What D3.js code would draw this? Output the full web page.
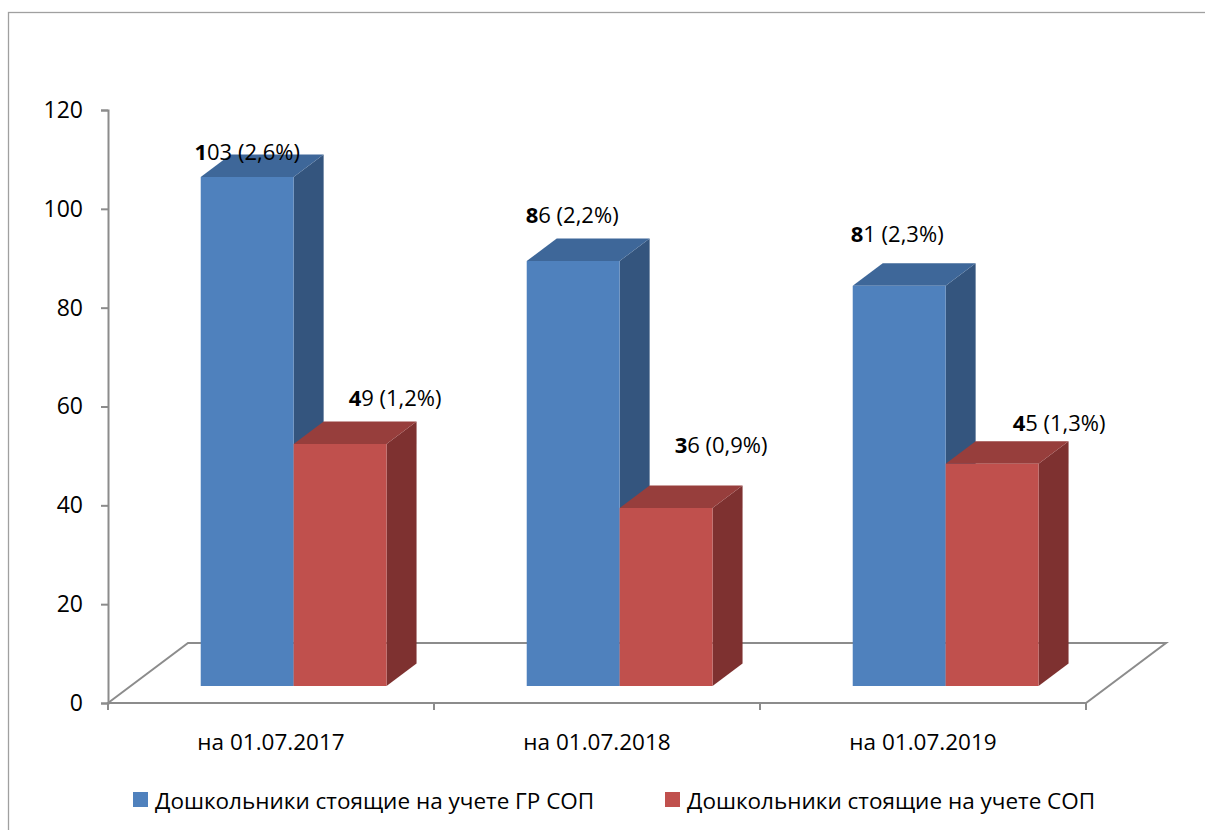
<!DOCTYPE html>
<html>
<head>
<meta charset="utf-8">
<script src="https://cdn.jsdelivr.net/npm/d3@7"></script>
<style>
  html, body { margin: 0; padding: 0; background: #fff; }
  svg { display: block; }
  text { font-family: "Open Sans", "Noto Sans", sans-serif; fill: #000; }
</style>
</head>
<body>
<svg id="chart" width="1205" height="830"></svg>
<script>
// Data
const categories = ["на 01.07.2017", "на 01.07.2018", "на 01.07.2019"];
const seriesNames = ["Дошкольники стоящие на учете ГР СОП", "Дошкольники стоящие на учете СОП"];
const valuesGR = [103, 86, 81];
const valuesSOP = [49, 36, 45];
const percentGR = ["2,6%", "2,2%", "2,3%"];
const percentSOP = ["1,2%", "0,9%", "1,3%"];
const yTicks = [0, 20, 40, 60, 80, 100, 120];

// Label placement relative to the top-front centre of each bar (layout only)
const labelNudge = [
  [[0, -26], [-1, -47], [-2, -53]],
  [[55, -47], [55, -64], [67, -42]]
];

const palette = [
  { front: "#4F81BD", top: "#3E6799", side: "#34557E" },
  { front: "#C0504D", top: "#973E3C", side: "#7E3130" }
];

const series = [
  { name: seriesNames[0], values: valuesGR, pct: percentGR },
  { name: seriesNames[1], values: valuesSOP, pct: percentSOP }
];

const svg = d3.select("#chart");

// Outer frame
svg.append("rect")
  .attr("x", 8.5).attr("y", 12.5)
  .attr("width", 1210).attr("height", 830)
  .attr("fill", "none").attr("stroke", "#a0a0a0").attr("stroke-width", 1.3);

// Plot geometry: front floor edge and depth projection
const x0 = 108, x1 = 1086;
const depthDX = 80, depthDY = 60;         // full floor depth offset
const barFront = 0.283, barDepth = 0.375; // bar depth range as fraction of floor

const x = d3.scaleBand().domain(categories).range([x0, x1]).paddingInner(0).paddingOuter(0);
const y = d3.scaleLinear().domain([0, 120]).range([703, 110]);
const groupFrac = 0.57;
const inner = d3.scaleBand().domain([0, 1]).range([0, x.bandwidth() * groupFrac]);

const proj = (px, v, d) => [px + d * depthDX, y(v) - d * depthDY];

// Floor
const floorG = svg.append("g");
floorG.append("polygon")
  .attr("points", [proj(x0, 0, 0), proj(x0, 0, 1), proj(x1, 0, 1), proj(x1, 0, 0)].map(p => p.join(",")).join(" "))
  .attr("fill", "#fff").attr("stroke", "#8c8c8c").attr("stroke-width", 2).attr("stroke-linejoin", "miter");

// Y axis
const yAxis = d3.axisLeft(y).tickValues(yTicks).tickSize(7).tickPadding(18);
const yg = svg.append("g").attr("transform", `translate(${x0},0)`).call(yAxis);
yg.select(".domain").attr("stroke", "#8c8c8c").attr("stroke-width", 2);
yg.selectAll(".tick line").attr("stroke", "#8c8c8c").attr("stroke-width", 2);
yg.selectAll(".tick text").style("font-size", "23px").style("font-family", "'Open Sans', sans-serif").attr("fill", "#000");

// X axis line with category boundary ticks
const boundaries = categories.map(c => x(c)).concat([x1]);
svg.append("g").selectAll("line.xt").data(boundaries).join("line")
  .attr("x1", d => d).attr("x2", d => d)
  .attr("y1", y(0)).attr("y2", y(0) + 7)
  .attr("stroke", "#8c8c8c").attr("stroke-width", 2);
svg.append("g").selectAll("text.cat").data(categories).join("text")
  .attr("x", d => x(d) + x.bandwidth() / 2)
  .attr("y", y(0) + 38)
  .attr("text-anchor", "middle")
  .attr("dominant-baseline", "central")
  .style("font-size", "22.5px")
  .text(d => d);

// Bars (drawn series by series inside each category so later bars overlap earlier sides)
const barsG = svg.append("g");
const pts = a => a.map(p => p.join(",")).join(" ");
categories.forEach((cat, ci) => {
  const gx = x(cat) + (x.bandwidth() * (1 - groupFrac)) / 2;
  series.forEach((s, si) => {
    const v = s.values[ci];
    const xl = gx + inner(si), xr = xl + inner.bandwidth();
    const dF = barFront, dB = barFront + barDepth;
    const c = palette[si];
    // right side
    barsG.append("polygon")
      .attr("points", pts([proj(xr, 0, dF), proj(xr, v, dF), proj(xr, v, dB), proj(xr, 0, dB)]))
      .attr("fill", c.side);
    // top
    barsG.append("polygon")
      .attr("points", pts([proj(xl, v, dF), proj(xl, v, dB), proj(xr, v, dB), proj(xr, v, dF)]))
      .attr("fill", c.top);
    // front
    barsG.append("polygon")
      .attr("points", pts([proj(xl, 0, dF), proj(xl, v, dF), proj(xr, v, dF), proj(xr, 0, dF)]))
      .attr("fill", c.front);
  });
});

// Value labels: first digit in bold
const labelsG = svg.append("g");
categories.forEach((cat, ci) => {
  const gx = x(cat) + (x.bandwidth() * (1 - groupFrac)) / 2;
  series.forEach((s, si) => {
    const v = s.values[ci];
    const xl = gx + inner(si);
    const [fx, fy] = proj(xl + inner.bandwidth() / 2, v, barFront);
    const [nx, ny] = labelNudge[si][ci];
    const str = String(v);
    const t = labelsG.append("text")
      .attr("x", fx + nx).attr("y", fy + ny)
      .attr("text-anchor", "middle")
      .attr("dominant-baseline", "central")
      .style("font-size", "22px");
    t.append("tspan").style("font-weight", "bold").text(str.charAt(0));
    t.append("tspan").text(str.slice(1) + " (" + s.pct[ci] + ")");
  });
});

// Legend
const legendItems = [
  { name: seriesNames[0], color: palette[0].front, x: 133 },
  { name: seriesNames[1], color: palette[1].front, x: 665 }
];
const lg = svg.append("g");
legendItems.forEach(item => {
  lg.append("rect").attr("x", item.x).attr("y", 792).attr("width", 15).attr("height", 15).attr("fill", item.color);
  lg.append("text").attr("x", item.x + 22).attr("y", 800)
    .attr("dominant-baseline", "central")
    .style("font-size", "22.5px")
    .text(item.name);
});
</script>
</body>
</html>
